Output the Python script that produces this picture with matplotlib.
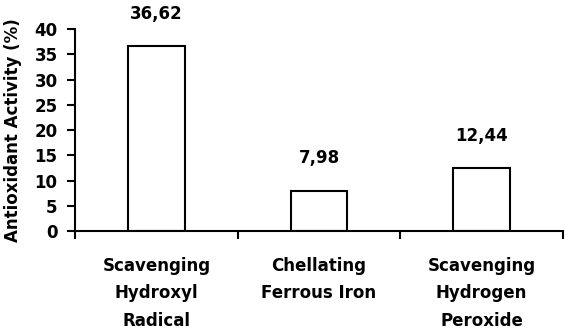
import numpy as np
import matplotlib.pyplot as plt

categories = ["Scavenging\nHydroxyl\nRadical", "Chellating\nFerrous Iron", "Scavenging\nHydrogen\nPeroxide"]
values = [36.62, 7.98, 12.44]
value_labels = ["36,62", "7,98", "12,44"]

plt.rcParams["font.family"] = ["DejaVu Sans"]
plt.rcParams["font.weight"] = "bold"

fig = plt.figure(figsize=(5.65, 3.34), dpi=100)
ax = fig.add_axes([0.1327, 0.3084, 0.8638, 0.6046])

x = np.arange(len(values))
ax.bar(x, values, width=0.35, color="white", edgecolor="black", linewidth=1.5)

# value labels above each bar
for xi, v, lab in zip(x, values, value_labels):
    ax.annotate(lab, (xi, v), xytext=(0, 17), textcoords="offset points",
                ha="center", va="bottom", fontsize=12, fontweight="bold")

ax.set_xlim(-0.5, 2.5)
ax.set_ylim(0, 40)
ax.set_yticks(np.arange(0, 41, 5))
ax.set_xticks(x)
ax.set_xticklabels(categories, fontsize=12, fontweight="bold", linespacing=1.65)
ax.set_xticks([-0.5, 0.5, 1.5, 2.5], minor=True)
ax.tick_params(axis="x", which="major", length=0, pad=19)
ax.tick_params(axis="x", which="minor", length=5.5, width=1.5, direction="out")
ax.tick_params(axis="y", length=5.5, width=1.5, direction="out", labelsize=12, pad=7)
for t in ax.get_yticklabels():
    t.set_fontweight("bold")

ax.set_ylabel("Antioxidant Activity (%)", fontsize=12, fontweight="bold", labelpad=9)

for side in ["top", "right"]:
    ax.spines[side].set_visible(False)
for side in ["left", "bottom"]:
    ax.spines[side].set_linewidth(1.5)

fig.savefig("out.png", dpi=100)
